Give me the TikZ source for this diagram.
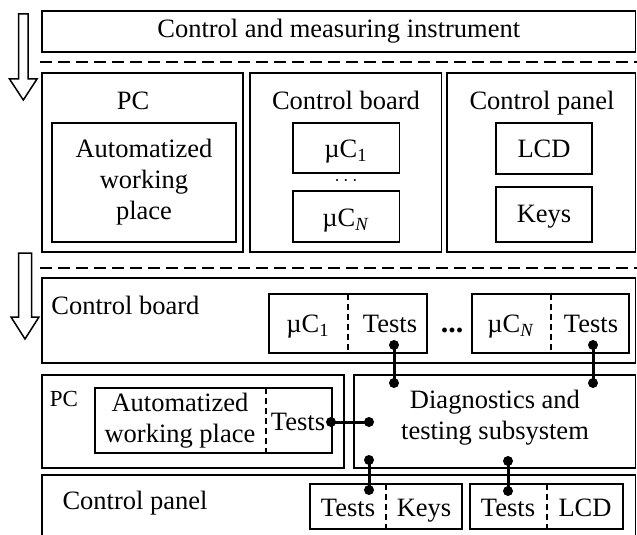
\documentclass[tikz,border=0pt]{standalone}
\usepackage{fontspec}
\setmainfont{Liberation Serif}
\usetikzlibrary{fit}
\begin{document}
\begin{tikzpicture}[x=0.5pt,y=-0.5pt,
  every node/.style={font=\fontsize{13.25}{15.5}\selectfont, inner sep=0pt, align=center},
  box/.style={draw, line width=0.75pt, inner sep=0pt},
  bbox/.style={draw, line width=0.9pt, inner sep=0pt},
  divider/.style={dashed, dash pattern=on 3pt off 2pt, line width=0.6pt},
  conn/.style={line width=1.5pt},
  dot/.style={circle, fill, inner sep=0pt, minimum size=5pt},
  sepline/.style={dash pattern=on 6pt off 3pt, line width=0.75pt},
  hollow/.style={draw, fill=white, line width=0.75pt, line join=miter},
  bl/.style={anchor=base}]
\path[use as bounding box] (0,0) rectangle (637,535);
\clip (0,0) rectangle (637,535);

% ---------- top section ----------
\node[box, fit={(42,11)(635.5,52)}] (cmi) {};
\node (cmit) at (cmi.center) {Control and measuring instrument};
\draw[sepline] (40,62) -- (637,62);

\draw[hollow] (18.5,14) -- (28,14) -- (28,79) -- (37,79) -- (23.3,100) -- (9.5,79) -- (18.5,79) -- cycle;

\node[box, fit={(42,73)(243,252)}] (pc1) {};
\node[bl] (pc1l) at (133,110) {PC};
\node[box, fit={(52,123)(236,242)}] (awp1) {};
\node (awp1t) at (awp1.center) {Automatized\\working\\place};

\node[box, fit={(250,73)(441.5,252)}] (cb1) {};
\node[bl] (cb1l) at (346,110) {Control board};
\node[box, fit={(293,123)(399.5,173)}] (mc1) {};
\node[bl] (mc1t) at (346,157) {µC\textsubscript{1}};
\node (dots1) at (346,181) {\fontsize{10}{10}\selectfont$\cdots$};
\node[box, fit={(293,191)(399.5,242)}] (mcn) {};
\node[bl] (mcnt) at (346,226) {µC\textsubscript{\textit{N}}};

\node[box, fit={(447,73)(635.5,252)}] (cp1) {};
\node[bl] (cp1l) at (542,110) {Control panel};
\node[box, fit={(496,123)(592,174)}] (lcd1) {};
\node[bl] (lcd1t) at (544,157) {LCD};
\node[box, fit={(496,187)(592,242)}] (keys1) {};
\node[bl] (keys1t) at (544,222) {Keys};

\draw[sepline] (40,268) -- (637,268);
\draw[hollow] (18.5,253) -- (31.5,253) -- (31.5,317) -- (39,317) -- (25,339) -- (11,317) -- (18.5,317) -- cycle;

% ---------- bottom section ----------
\node[bbox, fit={(42,278)(635.5,363)}] (cb2) {};
\node[anchor=base west] (cb2l) at (51,314) {Control board};

\node[bbox, fit={(269,294)(427,353)}] (u1) {};
\draw[divider] (348,294) -- (348,353);
\node[bl] (u1a) at (308,332) {µC\textsubscript{1}};
\node[bl] (u1b) at (390,332) {Tests};

\node[bl] (dots2) at (452,332) {\fontsize{15}{15}\selectfont\textbf{...}};

\node[bbox, fit={(472,294)(629,353)}] (un) {};
\draw[divider] (551,294) -- (551,353);
\node[bl] (una) at (511,332) {µC\textsubscript{\textit{N}}};
\node[bl] (unb) at (591,332) {Tests};

\node[bbox, fit={(42,375)(344,468)}] (pc2) {};
\node[bl] (pc2l) at (64,406) {\fontsize{11.5}{13}\selectfont PC};
\node[bbox, fit={(95,388)(332,453)}] (awp2) {};
\draw[divider] (266,388) -- (266,453);
\node (awp2a) at (180,421) {Automatized\\working place};
\node[bl] (awp2b) at (298,430) {Tests};

\node[bbox, fit={(354,375)(635.5,468)}] (dts) {};
\node (dtst) at (495,418) {Diagnostics and\\testing subsystem};

\draw[line width=0.9pt] (42,545) -- (42,475) -- (635.5,475) -- (635.5,545);
\node[bl] (cp2l) at (135,509) {Control panel};

\node[bbox, fit={(310,484)(462,529)}] (tk) {};
\draw[divider] (386,484) -- (386,529);
\node[bl] (tka) at (348,516) {Tests};
\node[bl] (tkb) at (424,516) {Keys};

\node[bbox, fit={(470,484)(623,529)}] (tl) {};
\draw[divider] (547,484) -- (547,529);
\node[bl] (tla) at (508,516) {Tests};
\node[bl] (tlb) at (585,516) {LCD};

% ---------- connector end points ----------
\coordinate (p1a) at (394,345);
\coordinate (p1b) at (394,383);
\coordinate (pna) at (593,345);
\coordinate (pnb) at (593,383);
\coordinate (pwa) at (331,422);
\coordinate (pwb) at (369,422);
\coordinate (pka) at (369,460);
\coordinate (pkb) at (369,490);
\coordinate (pla) at (508,461);
\coordinate (plb) at (508,491);

\foreach \a/\b in {p1a/p1b, pna/pnb, pwa/pwb, pka/pkb, pla/plb}{
  \draw[conn] (\a) -- (\b);
  \node[dot] at (\a) {};
  \node[dot] at (\b) {};
}
\end{tikzpicture}
\end{document}
